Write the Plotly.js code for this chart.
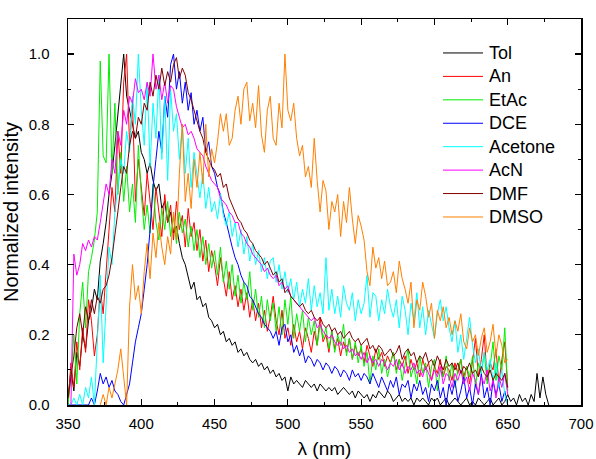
<!DOCTYPE html>
<html>
<head>
<meta charset="utf-8">
<script src="https://cdn.plot.ly/plotly-3.0.1.min.js"></script>
<style>
  html, body { margin: 0; padding: 0; background: #ffffff; }
  #chart { width: 596px; height: 459px; }
</style>
</head>
<body>
<div id="chart"></div>
<script>
// Emission spectra of the dye in eight solvents, normalised to the maximum.
// Each spectrum is sampled every 2 nm from its own starting wavelength.
const STEP_NM = 2;

const solventNames = ["Tol", "An", "EtAc", "DCE", "Acetone", "AcN", "DMF", "DMSO"];
const solventColors = ["#000000", "#ff0000", "#00ee00", "#0000ff", "#00ffff", "#ff00ff", "#800000", "#ff8000"];

const tolStart = 350;
const tolIntensity = [
  0.02, 0.10, 0.04, 0.15, 0.11, 0.20, 0.16, 0.24,
  0.27, 0.33, 0.30, 0.41, 0.46, 0.52, 0.60,
  0.66, 0.74, 0.82, 0.90, 1.00, 0.88, 0.84, 0.80, 0.76, 0.78,
  0.72, 0.70, 0.66, 0.69, 0.64, 0.61, 0.63, 0.56, 0.58, 0.52,
  0.55, 0.49, 0.51, 0.46, 0.42, 0.40, 0.36, 0.33, 0.35, 0.30,
  0.31, 0.28, 0.29, 0.25, 0.24, 0.22, 0.23, 0.20, 0.21, 0.18,
  0.19, 0.17, 0.18, 0.15, 0.16, 0.14, 0.15, 0.13, 0.12, 0.13,
  0.11, 0.12, 0.10, 0.11, 0.09, 0.10, 0.08, 0.09, 0.07, 0.08,
  0.04, 0.08, 0.06, 0.07, 0.06, 0.05, 0.07, 0.06, 0.05, 0.06,
  0.04, 0.06, 0.05, 0.04, 0.05, 0.04, 0.05, 0.03, 0.04, 0.05,
  0.04, 0.03, 0.04, 0.02, 0.04, 0.03, 0.02, 0.03, 0.01, 0.03,
  0.02, 0.04, 0.03, 0.02, 0.04, 0.03, 0.01, 0.02, 0.03, 0.01,
  0.02, 0.01, 0.02, 0.00, 0.02, 0.01, 0.02, 0.01, 0.00, 0.02,
  0.01, 0.02, 0.00, 0.01, 0.02, 0.00, 0.01, 0.02, 0.01, 0.00,
  0.01, 0.02, 0.00, 0.01, 0.00, 0.02, 0.01, 0.00, 0.01, 0.02,
  0.00, 0.01, 0.02, 0.00, 0.01, 0.03, 0.01, 0.02, 0.00, 0.03,
  0.01, 0.02, 0.00, 0.03, 0.01, 0.09, 0.02, 0.08, 0.03, 0.00
];

const anStart = 350;
const anIntensity = [
  0.00, 0.12, 0.05, 0.18, 0.10, 0.22, 0.15, 0.30, 0.24, 0.14,
  0.20, 0.33, 0.26, 0.38, 0.48, 0.62, 0.55, 0.78, 0.66, 0.92,
  1.00, 0.74, 0.86, 0.58, 0.70, 0.62, 0.54, 0.66, 0.58, 0.50,
  0.62, 0.55, 0.48, 0.60, 0.52, 0.57, 0.47, 0.58, 0.50, 0.54,
  0.45, 0.56, 0.48, 0.52, 0.44, 0.50, 0.41, 0.47, 0.38, 0.44,
  0.40, 0.34, 0.42, 0.36, 0.31, 0.38, 0.30, 0.34, 0.28, 0.33,
  0.27, 0.32, 0.25, 0.30, 0.24, 0.29, 0.22, 0.27, 0.21, 0.25,
  0.31, 0.24, 0.20, 0.27, 0.19, 0.22, 0.17, 0.23, 0.18, 0.21,
  0.16, 0.22, 0.19, 0.15, 0.21, 0.17, 0.25, 0.18, 0.20, 0.15,
  0.21, 0.16, 0.19, 0.14, 0.18, 0.15, 0.19, 0.13, 0.17, 0.14,
  0.16, 0.12, 0.17, 0.14, 0.11, 0.16, 0.13, 0.15, 0.11, 0.14,
  0.12, 0.15, 0.10, 0.13, 0.11, 0.14, 0.09, 0.13, 0.10, 0.12,
  0.08, 0.13, 0.10, 0.12, 0.07, 0.11, 0.09, 0.13, 0.08, 0.11,
  0.10, 0.07, 0.12, 0.09, 0.13, 0.08, 0.11, 0.06, 0.12, 0.19,
  0.08, 0.13, 0.20, 0.07, 0.12, 0.10, 0.16, 0.06, 0.13, 0.18,
  0.05
];

const etacStart = 350;
const etacIntensity = [
  0.00, 0.08, 0.20, 0.06, 0.26, 0.35, 0.22, 0.38, 0.42, 0.47,
  0.55, 0.98, 0.71, 0.69, 1.00, 0.66, 0.86, 0.60, 0.72, 0.58,
  0.68, 0.55, 0.63, 0.52, 0.74, 0.60, 0.50, 0.57, 0.49, 0.63,
  0.52, 0.47, 0.56, 0.50, 0.58, 0.48, 0.54, 0.46, 0.55, 0.49,
  0.53, 0.45, 0.51, 0.44, 0.50, 0.42, 0.48, 0.40, 0.46, 0.39,
  0.44, 0.37, 0.45, 0.35, 0.41, 0.33, 0.40, 0.31, 0.37, 0.29,
  0.35, 0.30, 0.38, 0.27, 0.33, 0.25, 0.31, 0.22, 0.30, 0.24,
  0.29, 0.21, 0.28, 0.20, 0.30, 0.23, 0.31, 0.19, 0.26, 0.21,
  0.27, 0.18, 0.25, 0.20, 0.24, 0.17, 0.23, 0.19, 0.22, 0.16,
  0.21, 0.15, 0.20, 0.17, 0.23, 0.14, 0.19, 0.13, 0.18, 0.12,
  0.17, 0.11, 0.15, 0.06, 0.14, 0.10, 0.16, 0.09, 0.13, 0.08,
  0.12, 0.15, 0.09, 0.13, 0.07, 0.12, 0.16, 0.08, 0.11, 0.06,
  0.14, 0.09, 0.12, 0.05, 0.11, 0.13, 0.04, 0.10, 0.08, 0.14,
  0.07, 0.12, 0.05, 0.10, 0.13, 0.06, 0.11, 0.08, 0.14, 0.05,
  0.12, 0.09, 0.15, 0.06, 0.11, 0.18, 0.07, 0.14, 0.10, 0.22,
  0.04
];

const dceStart = 350;
const dceIntensity = [
  0.00, 0.00, 0.00, 0.00, 0.00, 0.00, 0.00, 0.00, 0.02, 0.00,
  0.04, 0.09, 0.06, 0.08, 0.05, 0.07, 0.04, 0.03, 0.01, 0.00,
  0.03, 0.06, 0.12, 0.18, 0.22, 0.26, 0.33, 0.40, 0.50, 0.62,
  0.70, 0.78, 0.72, 0.88, 0.82, 0.97, 1.00, 0.90, 0.95, 0.86,
  0.92, 0.84, 0.89, 0.80, 0.84, 0.78, 0.82, 0.72, 0.75, 0.68,
  0.66, 0.62, 0.60, 0.55, 0.52, 0.48, 0.45, 0.42, 0.40, 0.37,
  0.35, 0.34, 0.31, 0.30, 0.28, 0.26, 0.25, 0.23, 0.22, 0.21,
  0.19, 0.21, 0.17, 0.22, 0.23, 0.18, 0.20, 0.15, 0.17, 0.14,
  0.16, 0.12, 0.14, 0.13, 0.11, 0.13, 0.12, 0.10, 0.12, 0.11,
  0.09, 0.11, 0.10, 0.08, 0.10, 0.09, 0.07, 0.10, 0.08, 0.09,
  0.07, 0.09, 0.08, 0.06, 0.09, 0.07, 0.05, 0.08, 0.06, 0.04,
  0.07, 0.05, 0.08, 0.03, 0.06, 0.05, 0.07, 0.02, 0.06, 0.04,
  0.07, 0.03, 0.05, 0.01, 0.06, 0.04, 0.07, 0.02, 0.05, 0.00,
  0.06, 0.03, 0.07, 0.01, 0.04, 0.08, 0.02, 0.05, 0.00, 0.06,
  0.03, 0.09, 0.02, 0.05, 0.00, 0.07, 0.03, 0.06, 0.01, 0.04,
  0.00
];

const acetoneStart = 350;
const acetoneIntensity = [
  0.00, 0.00, 0.02, 0.00, 0.03, 0.00, 0.05, 0.02, 0.08, 0.00,
  0.18, 0.37, 0.12, 0.28, 0.45, 0.40, 0.55, 0.62, 0.70, 0.66,
  0.78, 0.72, 0.88, 0.80, 1.00, 0.84, 0.74, 0.92, 0.68, 0.86,
  0.76, 0.94, 0.70, 0.88, 0.64, 0.90, 0.78, 0.83, 0.70, 0.80,
  0.66, 0.76, 0.62, 0.72, 0.65, 0.59, 0.66, 0.56, 0.62, 0.55,
  0.58, 0.53, 0.60, 0.54, 0.51, 0.55, 0.48, 0.52, 0.45, 0.50,
  0.43, 0.48, 0.41, 0.46, 0.40, 0.44, 0.38, 0.42, 0.36, 0.41,
  0.42, 0.35, 0.40, 0.33, 0.38, 0.32, 0.36, 0.30, 0.35, 0.28,
  0.33, 0.29, 0.36, 0.27, 0.34, 0.28, 0.32, 0.26, 0.42, 0.27,
  0.33, 0.26, 0.31, 0.25, 0.34, 0.29, 0.27, 0.32, 0.24, 0.30,
  0.26, 0.29, 0.37, 0.25, 0.32, 0.31, 0.24, 0.30, 0.26, 0.33,
  0.28, 0.25, 0.30, 0.22, 0.31, 0.27, 0.20, 0.29, 0.24, 0.32,
  0.22, 0.28, 0.20, 0.27, 0.23, 0.19, 0.26, 0.30, 0.24, 0.28,
  0.22, 0.18, 0.24, 0.15, 0.20, 0.13, 0.19, 0.25, 0.17, 0.12,
  0.16, 0.09, 0.15, 0.10, 0.13, 0.07, 0.12, 0.05, 0.10, 0.03,
  0.00
];

const acnStart = 352;
const acnIntensity = [
  0.00, 0.43, 0.37, 0.40, 0.46, 0.44, 0.47, 0.45, 0.48, 0.47,
  0.52, 0.58, 0.63, 0.60, 0.70, 0.66, 0.78, 0.74, 0.84, 0.80,
  0.88, 0.86, 0.93, 0.89, 0.90, 0.87, 0.92, 0.88, 1.00, 0.90,
  0.94, 0.87, 0.92, 0.86, 0.91, 0.90, 0.85, 0.82, 0.79, 0.80,
  0.77, 0.78, 0.76, 0.73, 0.72, 0.71, 0.68, 0.66, 0.64, 0.63,
  0.62, 0.59, 0.58, 0.57, 0.55, 0.54, 0.52, 0.52, 0.49, 0.48,
  0.46, 0.45, 0.43, 0.42, 0.41, 0.40, 0.38, 0.39, 0.37, 0.36,
  0.37, 0.34, 0.35, 0.33, 0.34, 0.31, 0.30, 0.29, 0.28, 0.27,
  0.26, 0.25, 0.24, 0.25, 0.22, 0.23, 0.21, 0.20, 0.19, 0.20,
  0.18, 0.17, 0.18, 0.16, 0.17, 0.15, 0.16, 0.14, 0.15, 0.13,
  0.15, 0.12, 0.14, 0.12, 0.13, 0.11, 0.13, 0.12, 0.10, 0.12,
  0.11, 0.13, 0.10, 0.12, 0.09, 0.11, 0.10, 0.12, 0.09, 0.10,
  0.08, 0.11, 0.09, 0.07, 0.10, 0.08, 0.11, 0.06, 0.09, 0.08,
  0.05, 0.09, 0.07, 0.10, 0.06, 0.08, 0.04, 0.09, 0.07, 0.03,
  0.08, 0.06, 0.10, 0.04, 0.07, 0.02, 0.08, 0.05, 0.09, 0.03
];

const dmfStart = 350;
const dmfIntensity = [
  0.02, 0.08, 0.14, 0.22, 0.26, 0.20, 0.28, 0.24, 0.30, 0.26,
  0.31, 0.29, 0.33, 0.34, 0.37, 0.42, 0.48, 0.55, 0.62, 0.68,
  0.66, 0.74, 0.78, 0.76, 0.82, 0.80, 0.86, 0.84, 0.92, 0.88,
  0.94, 0.90, 0.96, 0.91, 0.95, 0.92, 0.97, 0.99, 0.93, 0.96,
  0.94, 0.89, 0.87, 0.84, 0.81, 0.78, 0.76, 0.72, 0.70, 0.68,
  0.67, 0.65, 0.66, 0.62, 0.63, 0.59, 0.57, 0.55, 0.53, 0.52,
  0.50, 0.49, 0.47, 0.46, 0.44, 0.43, 0.42, 0.40, 0.41, 0.39,
  0.37, 0.38, 0.35, 0.36, 0.32, 0.33, 0.31, 0.30, 0.29, 0.28,
  0.29, 0.27, 0.26, 0.27, 0.25, 0.24, 0.25, 0.23, 0.22, 0.23,
  0.21, 0.22, 0.20, 0.21, 0.19, 0.20, 0.21, 0.19, 0.18, 0.19,
  0.17, 0.18, 0.19, 0.16, 0.17, 0.15, 0.17, 0.16, 0.14, 0.15,
  0.16, 0.14, 0.15, 0.17, 0.13, 0.15, 0.16, 0.14, 0.15, 0.12,
  0.14, 0.13, 0.15, 0.12, 0.13, 0.11, 0.14, 0.12, 0.10, 0.13,
  0.11, 0.12, 0.10, 0.12, 0.09, 0.11, 0.10, 0.12, 0.09, 0.10,
  0.08, 0.11, 0.09, 0.08, 0.10, 0.07, 0.09, 0.08, 0.07, 0.09,
  0.05
];

const dmsoStart = 372;
const dmsoIntensity = [
  0.00, 0.03, 0.00, 0.05, 0.02, 0.06, 0.10, 0.16, 0.08, 0.00,
  0.28, 0.40, 0.30, 0.34, 0.26, 0.38, 0.46, 0.36, 0.49, 0.42,
  0.52, 0.45, 0.40, 0.48, 0.43, 0.55, 0.47, 0.66, 0.80, 0.58,
  0.66, 0.56, 0.70, 0.62, 0.72, 0.63, 0.80, 0.65, 0.73, 0.69,
  0.75, 0.83, 0.78, 0.83, 0.74, 0.76, 0.84, 0.88, 0.80, 0.90,
  0.92, 0.81, 0.86, 0.79, 0.91, 0.77, 0.72, 0.84, 0.88, 0.76,
  0.74, 0.86, 0.79, 1.00, 0.84, 0.81, 0.86, 0.76, 0.71, 0.74,
  0.65, 0.68, 0.62, 0.76, 0.64, 0.55, 0.64, 0.61, 0.50, 0.58,
  0.55, 0.60, 0.48, 0.58, 0.52, 0.62, 0.53, 0.46, 0.54, 0.51,
  0.47, 0.38, 0.34, 0.45, 0.39, 0.42, 0.36, 0.41, 0.34, 0.35,
  0.38, 0.32, 0.41, 0.36, 0.33, 0.29, 0.35, 0.22, 0.30, 0.27,
  0.35, 0.31, 0.25, 0.29, 0.19, 0.27, 0.24, 0.28, 0.22, 0.25,
  0.20, 0.24, 0.21, 0.26, 0.18, 0.16, 0.22, 0.18, 0.20, 0.14,
  0.19, 0.22, 0.15, 0.18, 0.23, 0.14, 0.20, 0.17, 0.12, 0.13
];

const spectra = [
  [tolStart, tolIntensity],
  [anStart, anIntensity],
  [etacStart, etacIntensity],
  [dceStart, dceIntensity],
  [acetoneStart, acetoneIntensity],
  [acnStart, acnIntensity],
  [dmfStart, dmfIntensity],
  [dmsoStart, dmsoIntensity]
];

// wavelength grid for one spectrum
function wavelengths(start, count) {
  const out = [];
  for (let i = 0; i < count; i++) out.push(start + i * STEP_NM);
  return out;
}

const FONT = "Liberation Sans, Arial, sans-serif";

const traces = spectra.map(([start, values], k) => ({
  type: "scatter",
  mode: "lines",
  name: solventNames[k],
  x: wavelengths(start, values.length),
  y: values,
  line: { color: solventColors[k], width: 1 },
  showlegend: false
}));

// Key in the upper right: a short coloured line and the solvent name per row,
// placed in paper coordinates of the plotting area.
const KEY_TOP = 0.912;     // centre of the first row
const KEY_ROW = 0.0607;    // row spacing
const KEY_LINE_X0 = 0.731;
const KEY_LINE_X1 = 0.809;
const KEY_TEXT_X = 0.817;

const keyShapes = solventNames.map((name, k) => ({
  type: "line", xref: "paper", yref: "paper",
  x0: KEY_LINE_X0, x1: KEY_LINE_X1,
  y0: KEY_TOP - k * KEY_ROW, y1: KEY_TOP - k * KEY_ROW,
  line: { color: solventColors[k], width: 1 }
}));

const keyLabels = solventNames.map((name, k) => ({
  xref: "paper", yref: "paper",
  x: KEY_TEXT_X, y: KEY_TOP - k * KEY_ROW,
  xanchor: "left", yanchor: "middle",
  text: name, showarrow: false,
  font: { family: FONT, size: 18, color: "#000000" }
}));

const axisCommon = {
  showline: true,
  linecolor: "#000000",
  linewidth: 1.5,
  mirror: "ticks",
  ticks: "inside",
  ticklen: 6,
  tickwidth: 1.2,
  tickcolor: "#000000",
  showgrid: false,
  zeroline: false,
  tickfont: { family: FONT, size: 15, color: "#000000" }
};

const layout = {
  width: 596,
  height: 459,
  margin: { l: 68, r: 15, t: 19, b: 54 },
  paper_bgcolor: "#ffffff",
  plot_bgcolor: "#ffffff",
  font: { family: FONT, color: "#000000" },
  showlegend: false,
  shapes: keyShapes,
  annotations: keyLabels,
  xaxis: Object.assign({}, axisCommon, {
    range: [350, 700],
    dtick: 50,
    tick0: 350,
    ticklabelstandoff: 4,
    minor: { dtick: 25, ticks: "inside", ticklen: 3, tickcolor: "#000000", tickwidth: 1 },
    title: { text: "λ (nm)", font: { family: FONT, size: 19 }, standoff: 12 }
  }),
  yaxis: Object.assign({}, axisCommon, {
    range: [0, 1.1],
    dtick: 0.2,
    tick0: 0,
    tickformat: ".1f",
    ticklabelstandoff: 14,
    minor: { dtick: 0.1, ticks: "inside", ticklen: 3, tickcolor: "#000000", tickwidth: 1 },
    title: { text: "Normalized intensity", font: { family: FONT, size: 20 }, standoff: 10 }
  })
};

Plotly.newPlot("chart", traces, layout, { displayModeBar: false, staticPlot: true });
</script>
</body>
</html>
